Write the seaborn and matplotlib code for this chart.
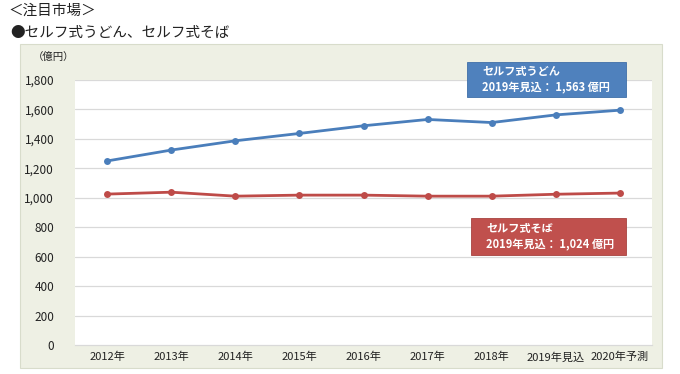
import matplotlib
matplotlib.use("Agg")
import matplotlib.pyplot as plt
import seaborn as sns
import pandas as pd
from matplotlib.patches import Rectangle

years = ["2012年", "2013年", "2014年", "2015年", "2016年", "2017年", "2018年", "2019年見込", "2020年予測"]
udon = [1250, 1324, 1387, 1437, 1489, 1532, 1511, 1563, 1595]
soba = [1025, 1038, 1011, 1018, 1018, 1011, 1011, 1024, 1032]
yticks = [0, 200, 400, 600, 800, 1000, 1200, 1400, 1600, 1800]

sns.set_theme(style="white")
plt.rcParams['font.family'] = ['Noto Sans CJK JP', 'DejaVu Sans']

W, H = 680, 374
fig = plt.figure(figsize=(W / 100, H / 100), dpi=100)
fig.patch.set_facecolor("white")

def fx(x):
    return x / W

def fy(y):
    return 1 - y / H

# outer panel
fig.add_artist(Rectangle((fx(20), fy(368)), (662 - 20) / W, (368 - 44) / H,
                         transform=fig.transFigure, facecolor="#eef0e4",
                         edgecolor="#d8dccb", linewidth=0.8, zorder=0))

ax = fig.add_axes([fx(75), fy(345), (652 - 75) / W, (345 - 80) / H])
ax.set_facecolor("white")

df = pd.DataFrame({
    "year": years * 2,
    "pos": list(range(len(years))) * 2,
    "value": udon + soba,
    "series": ["セルフ式うどん"] * len(years) + ["セルフ式そば"] * len(years),
})
sns.lineplot(data=df, x="pos", y="value", hue="series",
             palette={"セルフ式うどん": "#4a7ebb", "セルフ式そば": "#be4b48"},
             marker="o", markersize=5, markeredgewidth=0, linewidth=2,
             legend=False, ax=ax, zorder=3)

ax.set_xlim(-0.5, len(years) - 0.5)
ax.set_ylim(0, 1800)
ax.set_yticks(yticks)
ax.set_yticklabels([f"{v:,}" for v in yticks], fontsize=8.5, color="#222222")
ax.set_xticks(range(len(years)))
ax.set_xticklabels(years, fontsize=8, color="#222222")
ax.tick_params(axis="y", length=0, pad=15)
ax.tick_params(axis="x", length=0, pad=5)
ax.set_xlabel("")
ax.set_ylabel("")
for v in yticks[1:]:
    ax.axhline(v, color="#d9d9d9", linewidth=0.9, zorder=1)
for s in ["top", "right", "left"]:
    ax.spines[s].set_visible(False)
ax.spines["bottom"].set_color("#d9d9d9")
ax.spines["bottom"].set_linewidth(0.9)

# titles
fig.text(fx(8), fy(11), "＜注目市場＞", fontsize=10.5, va="center", ha="left", color="#222222")
fig.text(fx(10), fy(33), "●セルフ式うどん、セルフ式そば", fontsize=10.5, va="center", ha="left", color="#222222")
fig.text(fx(33), fy(57), "（億円）", fontsize=7.5, va="center", ha="left", color="#222222")

# annotation boxes
fig.add_artist(Rectangle((fx(467), fy(97)), (626 - 467) / W, (97 - 62) / H,
                         transform=fig.transFigure, facecolor="#4f81bd",
                         edgecolor="#3f6fa8", linewidth=0.6, zorder=5))
fig.text(fx(482), fy(71), "セルフ式うどん", fontsize=8, fontweight="bold", color="white",
         va="center", ha="left", zorder=6)
fig.text(fx(482), fy(88), "2019年見込： 1,563 億円", fontsize=8, fontweight="bold", color="white",
         va="center", ha="left", zorder=6)

fig.add_artist(Rectangle((fx(471), fy(255)), (626 - 471) / W, (255 - 218) / H,
                         transform=fig.transFigure, facecolor="#c0504d",
                         edgecolor="#a84340", linewidth=0.6, zorder=5))
fig.text(fx(486), fy(228), "セルフ式そば", fontsize=8, fontweight="bold", color="white",
         va="center", ha="left", zorder=6)
fig.text(fx(486), fy(245), "2019年見込： 1,024 億円", fontsize=8, fontweight="bold", color="white",
         va="center", ha="left", zorder=6)

fig.savefig("out.png", dpi=100)
